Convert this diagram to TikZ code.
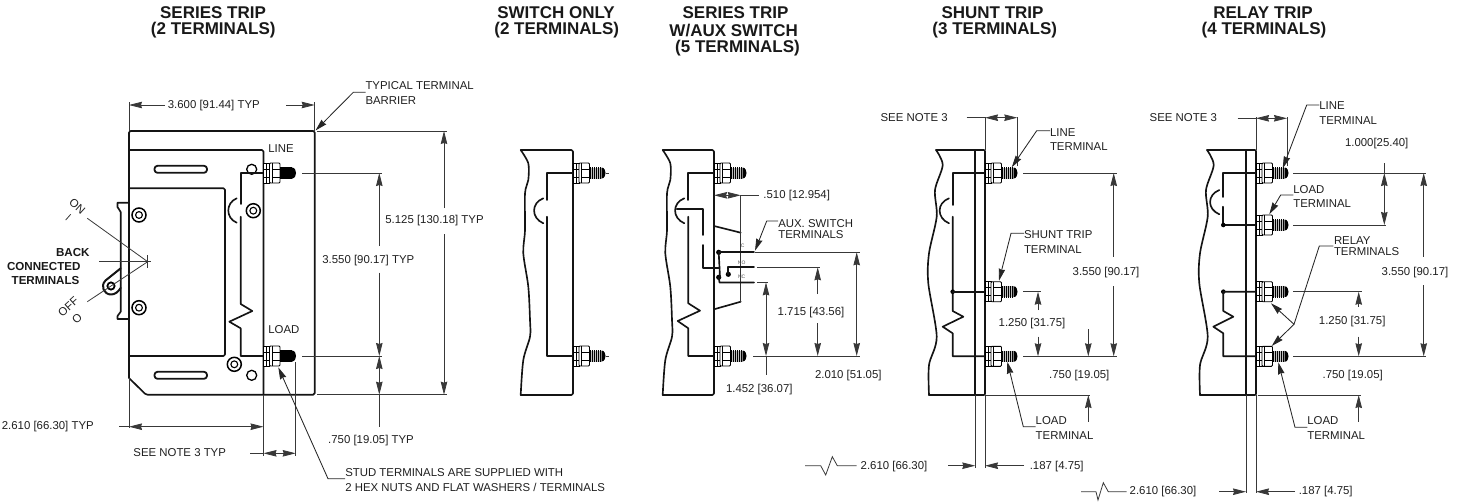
\documentclass[tikz,border=0pt]{standalone}
\usepackage{fontspec}
\setmainfont{Liberation Sans}
\usetikzlibrary{arrows.meta}
\tikzset{
 body/.style={line width=1.65pt,draw=black!92,line join=round,line cap=round},
 thin line/.style={line width=.8pt,draw=black!78},
 dimen/.style={thin line,>={Stealth[length=13pt,width=6.5pt,inset=1pt]}},
 leader/.style={line width=.85pt,draw=black!85,>={Stealth[length=12pt,width=6.5pt,inset=1pt]}},
 lbl/.style={inner sep=0pt,outer sep=0pt,font=\fontsize{11.4}{13}\selectfont,text=black!88},
 lbll/.style={lbl,anchor=west},
 titletext/.style={inner sep=0pt,outer sep=0pt,font=\fontsize{17}{18}\selectfont\bfseries,text=black!90},
 backlbl/.style={inner sep=0pt,outer sep=0pt,font=\fontsize{11.6}{13}\selectfont\bfseries,text=black!90},
 tiny/.style={inner sep=0pt,outer sep=0pt,font=\fontsize{5}{6}\selectfont,text=black!70},
 stud/.pic={
  \draw[line width=.9pt,fill=white] (0,-10) rectangle (6,10);
  \draw[line width=.7pt] (3,-10)--(3,10) (0,-4)--(6,-4) (0,4)--(6,4);
  \draw[line width=.9pt,fill=white,rounded corners=1pt] (6,-10) rectangle (16.5,10);
  \draw[line width=.7pt] (8.5,-10)--(8.5,10) (8.5,-4)--(16.5,-4) (8.5,4)--(16.5,4);
  \fill[black!25] (16.5,-5.5) rectangle (29,5.5);
  \foreach \tx in {17.3,19.3,...,29}{\draw[line width=1.6pt] (\tx,-5.8)--(\tx,5.8);}
  \fill (28.5,-5.5) .. controls (31.5,-5.5) and (32.5,-2) .. (32.5,0) .. controls (32.5,2) and (31.5,5.5) .. (28.5,5.5) -- cycle;
 },
 screw/.pic={
  \draw[line width=1.5pt] (0,0) circle (7);
  \draw[line width=1.1pt] (0,0) circle (3.4);
 }
}
\newcommand{\wavesw}{(520.7,150) (528.3,163.3) (528.3,180) (525,193.3) (525,230) (523.3,253.3) (528.3,286.7) (530,320) (530,336.7) (523.3,360) (520.7,395)}
\newcommand{\waveaux}{(662.7,150) (670.3,163.3) (670.3,180) (667,193.3) (667,230) (665.3,253.3) (670.3,286.7) (672,320) (672,336.7) (665.3,360) (662.7,395)}
\newcommand{\waveshunt}{(936,150) (942.7,165) (935,190) (936.7,216.7) (929,253.3) (928.3,283.3) (936.7,336.7) (929,365) (929,395)}
\begin{document}
\begin{tikzpicture}[x=1pt,y=-1pt]
\useasboundingbox (0,0) rectangle (1464,501);
% ---------- titles
\node[titletext] (t1a) at (213,12.7) {SERIES TRIP};
\node[titletext] (t1b) at (213.3,30.5) {(2 TERMINALS)};
\node[titletext] (t2a) at (556,12.7) {SWITCH ONLY};
\node[titletext] (t2b) at (556.7,30.5) {(2 TERMINALS)};
\node[titletext] (t3a) at (735.5,12.7) {SERIES TRIP};
\node[titletext] (t3b) at (733.7,30.5) {W/AUX SWITCH};
\node[titletext] (t3c) at (737.5,48) {(5 TERMINALS)};
\node[titletext] (t4a) at (992.5,12.7) {SHUNT TRIP};
\node[titletext] (t4b) at (994.8,30.5) {(3 TERMINALS)};
\node[titletext] (t5a) at (1263,12.7) {RELAY TRIP};
\node[titletext] (t5b) at (1264,30.5) {(4 TERMINALS)};

% ---------- SERIES TRIP
\draw[body,rounded corners=1.5pt] (129,378) -- (129,131) -- (314.7,131) -- (314.7,394.7) -- (146,394.7) -- (129,378);
\draw[body,rounded corners=1.5pt] (129,150) -- (263.5,150) -- (263.5,394.7);
\draw[body,rounded corners=1.5pt] (129,188.3) -- (225,188.3) -- (225,356) -- (129,356);
\draw[body] (129,188.3) -- (129,202.7) -- (117.5,202.7) -- (117.5,207) -- (120.7,212) -- (120.7,311.7) -- (117.5,316) -- (117.5,319) -- (129,319) -- (129,356);
\draw[body,rounded corners=3pt,line width=1.8pt] (154.5,165.8) rectangle (207,172.8);
\draw[body,rounded corners=3pt,line width=1.8pt] (154.5,371.8) rectangle (207,378.8);
\draw[line width=1.3pt] (251.7,169.3) circle (5) (251.7,375.3) circle (5);
\pic at (139,215) {screw};
\pic at (139,307.7) {screw};
\pic at (253.3,210.7) {screw};
\pic at (234.3,364.3) {screw};
% breaker line
\draw[body] (263.5,173) -- (240.7,173) -- (240.7,204);
\draw[body] (240.7,216.7) -- (240.7,304) -- (252.3,311) -- (229.3,321.7) -- (240.7,328.3) -- (240.7,356) -- (263.5,356);
\draw[body] (236.7,198.3) .. controls (225.5,203) and (225.5,218) .. (236.7,222.7);
\pic at (263.5,173) {stud};
\pic at (263.5,356) {stud};
% handle
\draw[body,line width=2pt] (120.7,268.3) -- (105.5,280.5) .. controls (100,286) and (104,294.5) .. (111,294.5) .. controls (115,294.5) and (118,292) .. (120.7,288);
\draw[line width=1.8pt] (111,286) circle (3.6);
\draw[thin line] (87.3,218.3) -- (147.7,261.7) -- (87.3,301.7);
\draw[thin line] (99,261.7) -- (150.7,261.7) (147.7,255) -- (147.7,268.3);
\draw[thin line] (65.7,220) -- (70.7,214.3);
\node[lbl,rotate=-42] (on) at (77.3,206.7) {ON};
\node[lbl,rotate=42] (off) at (68.3,306.7) {OFF};
\node[lbl,rotate=42] (offo) at (77,318.3) {O};
\node[backlbl] (b1) at (72.8,252.3) {BACK};
\node[backlbl] (b2) at (43.8,266.5) {CONNECTED};
\node[backlbl] (b3) at (45.5,281) {TERMINALS};
\node[lbll] (line1) at (268.3,149) {LINE};
\node[lbll] (load1) at (268.3,329.3) {LOAD};
% dims
\draw[thin line] (129,102) -- (129,131) (314.7,102) -- (314.7,131);
\node[lbl] (d1) at (213.8,106) {3.600 [91.44] TYP};
\draw[dimen,->] (165,105) -- (129,105);
\draw[dimen,->] (286,105) -- (314.7,105);
\node[lbll] (n1a) at (365.5,86) {TYPICAL TERMINAL};
\node[lbll] (n1b) at (365.5,100.5) {BARRIER};
\draw[leader,->] (365.5,92.3) -- (353.3,92.3) -- (315.5,130.5);
\draw[thin line] (317,131) -- (447,131) (317,394.7) -- (447,394.7);
\node[lbl] (d2) at (434.5,220.7) {5.125 [130.18] TYP};
\draw[dimen,->] (444,208) -- (444,131);
\draw[dimen,->] (444,234) -- (444,394.7);
\draw[thin line] (302,173) -- (382,173) (302,356) -- (382,356);
\node[lbl] (d3) at (368.3,261) {3.550 [90.17] TYP};
\draw[dimen,->] (379.3,246) -- (379.3,173);
\draw[dimen,->] (379.3,272.7) -- (379.3,356);
\draw[dimen,<->] (379.3,356) -- (379.3,394.7);
\draw[thin line] (379.3,394.7) -- (379.3,426.7);
\node[lbl] (d4) at (371,441) {.750 [19.05] TYP};
\draw[thin line] (129,378) -- (129,428) (263.5,394.7) -- (263.5,456) (295.7,362) -- (295.7,456);
\node[lbl] (d5) at (47.8,427) {2.610 [66.30] TYP};
\draw[dimen,<->] (129,426.7) -- (263.5,426.7);
\draw[thin line] (119,426.7) -- (129,426.7);
\node[lbl] (d6) at (179.7,452.3) {SEE NOTE 3 TYP};
\draw[dimen,<->] (263.5,453.3) -- (295.7,453.3);
\draw[thin line] (250,453.3) -- (263.5,453.3);
\node[lbll] (n2a) at (345.3,472.7) {STUD TERMINALS ARE SUPPLIED WITH};
\node[lbll] (n2b) at (345.3,487) {2 HEX NUTS AND FLAT WASHERS / TERMINALS};
\draw[leader,->] (345,478.7) -- (328,478.7) -- (278.3,367.3);

% ---------- SWITCH ONLY
\draw[body] plot[smooth] coordinates {\wavesw};
\draw[body,rounded corners=1.5pt] (520.7,150) -- (573,150) -- (573,395) -- (520.7,395);
\draw[body] (573,173) -- (546.7,173) -- (546.7,200);
\draw[body] (546.7,216.7) -- (546.7,356) -- (573,356);
\draw[body] (543.3,198.3) .. controls (531,203) and (531,218) .. (543.3,223.3);
\pic at (573,173) {stud};
\pic at (573,356) {stud};
\draw[thin line] (606,173) -- (609,173) (606,356) -- (609,356);

% ---------- SERIES TRIP W/AUX SWITCH
\draw[body] plot[smooth] coordinates {\waveaux};
\draw[body,rounded corners=1.5pt] (662.7,150) -- (714,150) -- (714,395) -- (662.7,395);
\draw[body] (714,173) -- (688.3,173) -- (688.3,200);
\draw[body] (688.3,216.7) -- (688.3,303.3) -- (700,310.7) -- (677.7,321) -- (688.3,328.3) -- (688.3,356) -- (714,356);
\draw[body] (684.3,198.3) .. controls (672,203) and (672,218) .. (684.3,223.3);
\draw[body] (676.7,209.3) -- (702.7,209.3) -- (702.7,235);
\draw[body] (702.7,245) -- (702.7,268) -- (719.5,268);
\draw[body] (714,226) -- (740.7,232.7);
\draw[body] (714,309.3) -- (740.7,301.7);
\draw[line width=1.1pt,draw=black!80] (740.7,232.7) -- (740.7,301.7);
\draw[thin line] (740.7,195) -- (740.7,232.7);
\fill (718.7,252.3) circle (2.6) (718.7,277.3) circle (2.6) (728.3,274.3) circle (2.6);
\draw[body] (718.7,252.3) -- (720,277.3);
\draw[body] (718.7,252.3) -- (754,252.3);
\draw[body] (728.3,274.3) -- (728.3,267.3) -- (754,267.3);
\draw[body] (718.7,277.3) -- (719.5,282.5) -- (754,282.5);
\pic at (714,173) {stud};
\pic at (714,356) {stud};
\node[tiny] (cc) at (742.7,245.7) {C};
\node[tiny] (cno) at (741.7,262.7) {NO};
\node[tiny] (cnc) at (741.7,276.7) {NC};
\node[lbl] (d7) at (796.7,195.3) {.510 [12.954]};
\draw[dimen,<->] (714,195.3) -- (740.7,195.3);
\draw[thin line] (740.7,195.3) -- (759.3,195.3);
\node[lbll] (n3a) at (778.3,223.7) {AUX. SWITCH};
\node[lbll] (n3b) at (778.3,235) {TERMINALS};
\draw[leader,->] (778,221) -- (766.7,221) -- (755,250.7);
\draw[thin line] (755,252.3) -- (860,252.3) (757,267.3) -- (820,267.3) (757,282.4) -- (768,282.4) (753.3,356) -- (860,356);
\draw[dimen,<->] (856.7,252.3) -- (856.7,356);
\draw[dimen,->] (817.7,294) -- (817.7,267.3);
\draw[dimen,->] (817.7,323.3) -- (817.7,356);
\draw[dimen,<->] (766,282.4) -- (766,356);
\draw[thin line] (766,356) -- (766,375);
\node[lbl] (d8) at (848.3,375.7) {2.010 [51.05]};
\node[lbl] (d9) at (811,312.7) {1.715 [43.56]};
\node[lbl] (d10) at (759.3,390) {1.452 [36.07]};

% ---------- SHUNT TRIP
\draw[body] plot[smooth] coordinates {\waveshunt};
\draw[body,rounded corners=1pt] (936,150) -- (985,150) -- (985,395) -- (929,395);
\draw[body] (975.3,150) -- (975.3,395);
\draw[body] (985,173) -- (952.7,173) -- (952.7,205);
\draw[body] (952.7,216.7) -- (952.7,311) -- (963.3,316.7) -- (942.7,326.7) -- (952.7,333.3) -- (952.7,356.3) -- (985,356.3);
\draw[body] (949,198.3) .. controls (936.5,203) and (936.5,218) .. (949,223.3);
\fill (952.7,291.7) circle (2.3);
\draw[body] (952.7,291.7) -- (985,291.7);
\pic at (985,173) {stud};
\pic at (985,291.7) {stud};
\pic at (985,356.3) {stud};
\draw[thin line] (985,150) -- (985,116.7) (1017.3,166) -- (1017.3,116.7);
\node[lbl] (d11) at (914.2,117.7) {SEE NOTE 3};
\draw[dimen,<->] (985,117.7) -- (1017.3,117.7);
\draw[thin line] (966.7,117.7) -- (985,117.7);
\node[lbll] (n4a) at (1050,132.3) {LINE};
\node[lbll] (n4b) at (1050,146.7) {TERMINAL};
\draw[leader,->] (1050,130.7) -- (1036.7,130.7) -- (1011.7,167.3);
\node[lbll] (n5a) at (1024,235) {SHUNT TRIP};
\node[lbll] (n5b) at (1024,249.3) {TERMINAL};
\draw[leader,->] (1024,233.3) -- (1011,233.3) -- (999,280.7);
\draw[thin line] (1023.3,173) -- (1116.7,173) (1023.3,356.3) -- (1116.7,356.3) (1023.3,291.7) -- (1040.7,291.7);
\draw[dimen,->] (1113.7,256.7) -- (1113.7,173);
\draw[dimen,->] (1113.7,286) -- (1113.7,356.3);
\node[lbl] (d12) at (1106,272.3) {3.550 [90.17]};
\draw[dimen,->] (1038,310) -- (1038,291.7);
\draw[dimen,->] (1038,336.7) -- (1038,356.3);
\node[lbl] (d13) at (1032,324) {1.250 [31.75]};
\draw[dimen,->] (1088.3,329.3) -- (1088.3,356.3);
\draw[dimen,->] (1088.3,421.7) -- (1088.3,395);
\draw[thin line] (985.7,395) -- (1090,395);
\node[lbl] (d14) at (1079.3,375.7) {.750 [19.05]};
\node[lbll] (n6a) at (1035.7,421) {LOAD};
\node[lbll] (n6b) at (1035.7,435.3) {TERMINAL};
\draw[leader,->] (1035.7,426.7) -- (1023.3,426.7) -- (1007.3,361.7);
\draw[thin line] (975.3,395) -- (975.3,468) (985,395) -- (985,468);
\draw[dimen,->] (948.3,465.7) -- (975.3,465.7);
\draw[dimen,->] (1024,465.7) -- (985,465.7);
\node[lbl] (d15) at (1056.7,466.7) {.187 [4.75]};
\node[lbl] (d16) at (894,466.7) {2.610 [66.30]};
\draw[thin line] (805,465.7) -- (820.7,465.7) -- (825.7,475) -- (832.3,456.7) -- (837.3,465.7) -- (856.7,465.7);

% ---------- RELAY TRIP
\begin{scope}[xshift=271pt]
\draw[body] plot[smooth] coordinates {\waveshunt};
\draw[body,rounded corners=1pt] (936,150) -- (985,150) -- (985,395) -- (929,395);
\draw[body] (975,150) -- (975,395);
\end{scope}
\draw[body] (1256,173) -- (1223.3,173) -- (1223.3,197);
\draw[body] (1223.3,206.7) -- (1223.3,225) -- (1256,225);
\draw[body] (1219.3,190) .. controls (1207,195) and (1207,209) .. (1219.3,214.3);
\fill (1223.3,225) circle (2.3) (1223.3,291.7) circle (2.3);
\draw[body] (1256,291.7) -- (1223.3,291.7) -- (1223.3,311) -- (1233.3,316.7) -- (1213.3,326.7) -- (1223.3,333.3) -- (1223.3,356.3) -- (1256,356.3);
\pic at (1256,173) {stud};
\pic at (1256,225) {stud};
\pic at (1256,291.7) {stud};
\pic at (1256,356.3) {stud};
\draw[thin line] (1256,150) -- (1256,116.7) (1287,166) -- (1287,116.7);
\node[lbl] (d17) at (1183.3,118) {SEE NOTE 3};
\draw[dimen,<->] (1256,118.3) -- (1287,118.3);
\draw[thin line] (1237.7,118.3) -- (1256,118.3);
\node[lbll] (n7a) at (1319.3,106) {LINE};
\node[lbll] (n7b) at (1319.3,120.7) {TERMINAL};
\draw[leader,->] (1319.3,105) -- (1306.7,105) -- (1282.7,168.3);
\node[lbl] (d18) at (1376.7,144) {1.000[25.40]};
\draw[thin line] (1293.3,173) -- (1426,173) (1293.3,225) -- (1386,225) (1293.3,291.7) -- (1361.7,291.7) (1293.3,356.3) -- (1426,356.3);
\draw[dimen,<->] (1384.3,173) -- (1384.3,225);
\draw[thin line] (1384.3,163.3) -- (1384.3,173);
\draw[dimen,->] (1423.7,256.7) -- (1423.7,173);
\draw[dimen,->] (1423.7,285) -- (1423.7,356.3);
\node[lbl] (d19) at (1415,272.3) {3.550 [90.17]};
\draw[dimen,->] (1358.7,306.7) -- (1358.7,291.7);
\draw[dimen,->] (1358.7,336.7) -- (1358.7,356.3);
\node[lbl] (d20) at (1352.2,321.7) {1.250 [31.75]};
\node[lbl] (d21) at (1352.7,375.7) {.750 [19.05]};
\draw[dimen,->] (1358.7,421.7) -- (1358.7,395);
\draw[thin line] (1257.7,395) -- (1360.7,395);
\node[lbll] (n8a) at (1293.3,189.3) {LOAD};
\node[lbll] (n8b) at (1293.3,203.7) {TERMINAL};
\draw[leader,->] (1293.3,195) -- (1280.7,195) -- (1269.3,214.3);
\node[lbll] (n9a) at (1334,240.7) {RELAY};
\node[lbll] (n9b) at (1334,252) {TERMINALS};
\draw[leader,->] (1333.3,246) -- (1319.3,246) -- (1294,324.3) -- (1271,303.3);
\draw[leader,->] (1294,324.3) -- (1271.7,346);
\node[lbll] (n10a) at (1307.3,421) {LOAD};
\node[lbll] (n10b) at (1307.3,435.3) {TERMINAL};
\draw[leader,->] (1307.3,427.3) -- (1295,427.3) -- (1278.3,362.3);
\draw[thin line] (1246,395) -- (1246,493) (1256,395) -- (1256,493);
\draw[dimen,->] (1219.3,491.7) -- (1246,491.7);
\draw[dimen,->] (1295,491.7) -- (1256,491.7);
\node[lbl] (d22) at (1325.7,492) {.187 [4.75]};
\node[lbl] (d23) at (1163,492) {2.610 [66.30]};
\draw[thin line] (1081,491.7) -- (1096,491.7) -- (1098,500) -- (1103.3,482.7) -- (1108.3,491.7) -- (1126.7,491.7);
\end{tikzpicture}
\end{document}
